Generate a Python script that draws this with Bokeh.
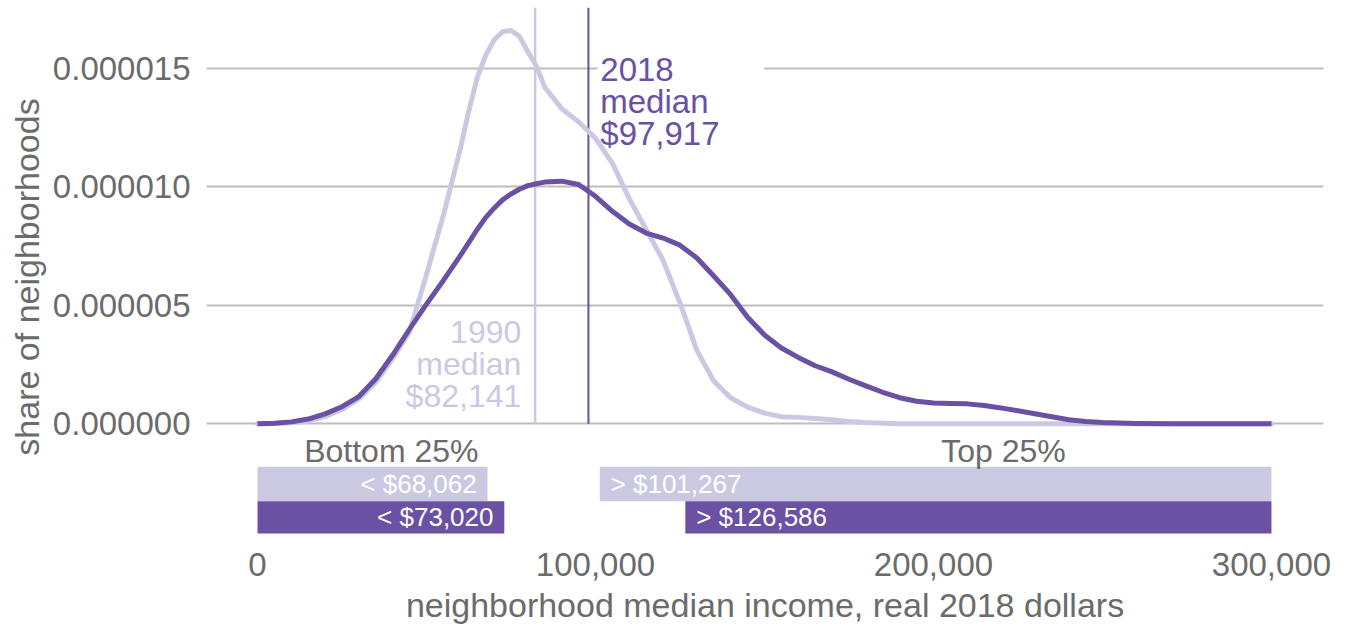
from bokeh.plotting import figure
from bokeh.models import Range1d, FixedTicker, NumeralTickFormatter, ColumnDataSource
from bokeh.embed import file_html
from bokeh.resources import INLINE
from bokeh.core.properties import value

# ---- data ----
income_k = [0, 5, 10, 15, 20, 25, 30, 35, 40, 45, 50, 55, 60, 62.5, 65, 67.5, 70, 72.5, 75,
            77.5, 80, 82.5, 85, 90, 95,
            100, 105, 110, 115, 120, 125, 130, 135, 140, 145, 150, 155, 160, 165, 170, 175,
            180, 185, 190, 195, 200, 205, 210, 215, 220, 225, 230, 235, 240, 245, 250,
            260, 270, 280, 290, 300]
dens_1990_e6 = [0.0, 0.01, 0.04, 0.12, 0.3, 0.6, 1.05, 1.75, 2.75, 3.9, 6.3, 8.8, 11.6, 13.2,
                14.6, 15.55, 16.2, 16.55, 16.6, 16.35, 15.7, 15.1, 14.2, 13.3, 12.75,
                12.05, 11.0, 9.5, 8.2, 6.9, 5.1, 3.1,
                1.8, 1.1, 0.7, 0.45, 0.3, 0.27, 0.22, 0.17, 0.1, 0.05, 0.02, 0.0, 0.0, 0.0,
                0.0, 0.0, 0.0, 0.0, 0.0, 0.0, 0.0, 0.0, 0.0, 0.0, 0.0, 0.0, 0.0, 0.0, 0.0]
dens_2018_e6 = [0.0, 0.02, 0.08, 0.2, 0.42, 0.72, 1.15, 1.9, 2.9, 4.0, 5.05, 6.05, 7.1, 7.65,
                8.2, 8.7, 9.1, 9.45, 9.7, 9.9, 10.05, 10.13, 10.2, 10.24, 10.1,
                9.6, 8.97, 8.43, 8.05, 7.84, 7.54, 7.0,
                6.24, 5.45, 4.5, 3.75, 3.2, 2.8, 2.45, 2.19, 1.88, 1.6, 1.33, 1.1, 0.95, 0.88,
                0.86, 0.84, 0.77, 0.67, 0.55, 0.42, 0.3, 0.17, 0.1, 0.05, 0.01, 0.0, 0.0,
                0.0, 0.0]

median_1990 = 82141
median_2018 = 97917
bottom25_1990 = 68062
top25_1990 = 101267
bottom25_2018 = 73020
top25_2018 = 126586
income_max = 300000

y_ticks = [0, 0.000005, 0.00001, 0.000015]
x_ticks = [0, 100000, 200000, 300000]

LIGHT = "#cbc9e2"
DARK = "#6a51a3"
GREY_TXT = "#6b6b6b"
GRID = "#bdbdbd"
FONT = "Liberation Sans"

x = [v * 1000 for v in income_k]
y90 = [v * 1e-6 for v in dens_1990_e6]
y18 = [v * 1e-6 for v in dens_2018_e6]

y_top = 17.57e-6
p = figure(width=1342, height=626, x_range=Range1d(-15090, 315400),
           y_range=Range1d(-5.18e-6, y_top),
           output_backend="svg", toolbar_location=None,
           min_border_left=206, min_border_right=19, min_border_top=7, min_border_bottom=79)
p.outline_line_color = None
p.background_fill_color = "white"
p.border_fill_color = "white"

# grid
p.xgrid.grid_line_color = None
p.ygrid.ticker = FixedTicker(ticks=y_ticks)
p.ygrid.grid_line_color = GRID
p.ygrid.grid_line_width = 2

# axes
for ax in (p.xaxis, p.yaxis):
    ax.axis_line_color = None
    ax.major_tick_line_color = None
    ax.minor_tick_line_color = None
    ax.major_label_text_font = FONT
    ax.axis_label_text_font = FONT
    ax.major_label_text_color = GREY_TXT
    ax.axis_label_text_color = GREY_TXT
    ax.axis_label_text_font_style = "normal"
    ax.major_label_text_font_size = "33px"
    ax.axis_label_text_font_size = "34px"

p.yaxis.ticker = FixedTicker(ticks=y_ticks)
p.yaxis.formatter = NumeralTickFormatter(format="0.000000")
p.yaxis.major_label_standoff = 10
p.yaxis.axis_label_standoff = 4
p.yaxis.axis_label = "share of neighborhoods"

p.xaxis.ticker = FixedTicker(ticks=x_ticks)
p.xaxis.formatter = NumeralTickFormatter(format="0,0")
p.xaxis.major_label_standoff = 0
p.xaxis.axis_label_standoff = 7
p.xaxis.axis_label = "neighborhood median income, real 2018 dollars"

# white box behind the 2018 label (hides gridline)
p.quad(left=[median_2018 + 2700], right=[median_2018 + 52000],
       bottom=[14.3e-6], top=[16.0e-6], fill_color="white", line_color=None)

# median lines
p.segment(x0=[median_1990], x1=[median_1990], y0=[0], y1=[y_top], line_color=LIGHT, line_width=2.5)
p.segment(x0=[median_2018], x1=[median_2018], y0=[0], y1=[y_top], line_color=DARK, line_width=2)

# density curves
p.line(x, y90, line_color=LIGHT, line_width=5, line_join="round", line_cap="round")
p.line(x, y18, line_color=DARK, line_width=5, line_join="round", line_cap="butt")

# quartile bars
bar_src = ColumnDataSource(dict(
    left=[0, top25_1990, 0, top25_2018],
    right=[bottom25_1990, income_max, bottom25_2018, income_max],
    top=[-1.81e-6, -1.81e-6, -3.27e-6, -3.27e-6],
    bottom=[-3.27e-6, -3.27e-6, -4.63e-6, -4.63e-6],
    color=[LIGHT, LIGHT, DARK, DARK],
))
p.quad(left="left", right="right", top="top", bottom="bottom", fill_color="color",
       line_color=None, source=bar_src)

pad = 3200
p.text(x=[bottom25_1990 - pad, bottom25_2018 - pad], y=[-2.54e-6, -3.95e-6],
       text=[f"< ${bottom25_1990:,}", f"< ${bottom25_2018:,}"],
       text_color="white", text_font=value(FONT), text_font_size="26px",
       text_align="right", text_baseline="middle")
p.text(x=[top25_1990 + pad, top25_2018 + pad], y=[-2.54e-6, -3.95e-6],
       text=[f"> ${top25_1990:,}", f"> ${top25_2018:,}"],
       text_color="white", text_font=value(FONT), text_font_size="26px",
       text_align="left", text_baseline="middle")

p.text(x=[39600, 220700], y=[-1.14e-6, -1.14e-6], text=["Bottom 25%", "Top 25%"],
       text_color=GREY_TXT, text_font=value(FONT), text_font_size="32px",
       text_align="center", text_baseline="middle")

# median labels
lab_18 = ["2018", "median", f"${median_2018:,}"]
lab_90 = ["1990", "median", f"${median_1990:,}"]
p.text(x=[median_2018 + 3500] * 3, y=[14.96e-6, 13.6e-6, 12.24e-6], text=lab_18,
       text_color=DARK, text_font=value(FONT), text_font_size="33px",
       text_align="left", text_baseline="middle")
p.text(x=[median_1990 - 4100] * 3, y=[3.88e-6, 2.53e-6, 1.18e-6], text=lab_90,
       text_color=LIGHT, text_font=value(FONT), text_font_size="32px",
       text_align="right", text_baseline="middle")

open("out.html", "w").write(file_html(p, INLINE))
